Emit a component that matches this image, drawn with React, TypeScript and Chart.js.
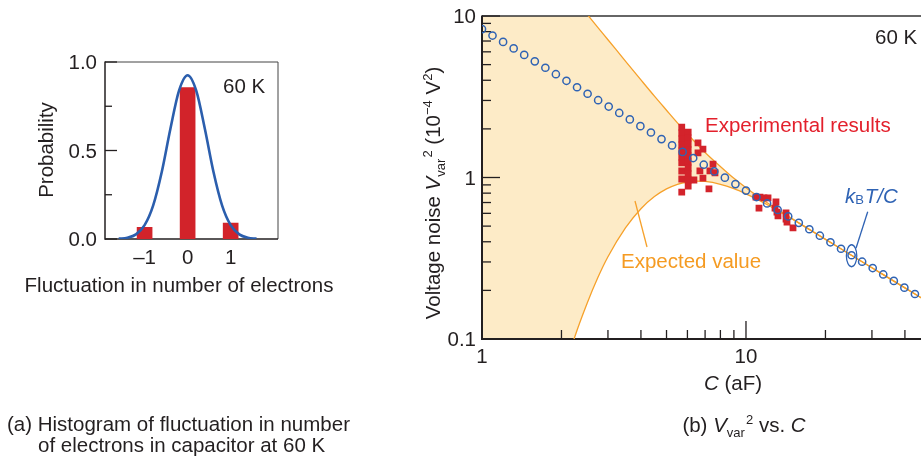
import { useEffect, useRef } from "react";
import { Chart, registerables } from "chart.js";
Chart.register(...registerables);

const FAMILY = '"Liberation Sans", Arial, Helvetica, sans-serif';
const INK = "#231f20";
const FS = 20.5;
const SUB = 13;

// ---------- Panel (a) data ----------
const fluctuationValues = [-1, 0, 1];
const probabilityValues = [0.066, 0.855, 0.09];
const gaussX = [-1.6, -1.4, -1.2, -1.0, -0.8, -0.6, -0.4, -0.2, 0, 0.2, 0.4, 0.6, 0.8, 1.0, 1.2, 1.4, 1.6];
const gaussY = [0.002, 0.007, 0.026, 0.078, 0.19, 0.38, 0.623, 0.838, 0.925, 0.838, 0.623, 0.38, 0.19, 0.078, 0.026, 0.007, 0.002];
const aYMajor = [0, 0.5, 1.0];
const aYMajorLabels = ["0.0", "0.5", "1.0"];
const aYMinor = [0.25, 0.75];
const aXTicks = [-1, 0, 1];
const aXLabels = ["\u20131", "0", "1"];

// ---------- Panel (b) data ----------
const kbtC = [1.0, 1.096, 1.202, 1.318, 1.445, 1.585, 1.738, 1.905, 2.089, 2.291, 2.512, 2.754, 3.02, 3.311, 3.631, 3.981, 4.365, 4.786, 5.248, 5.754, 6.31, 6.918, 7.586, 8.318, 9.12, 10.0, 10.96, 12.02, 13.18, 14.45, 15.85, 17.38, 19.05, 20.89, 22.91, 25.12, 27.54, 30.2, 33.11, 36.31, 39.81, 43.65, 47.86];
const kbtV = [8.3, 7.57, 6.91, 6.3, 5.74, 5.24, 4.78, 4.36, 3.97, 3.62, 3.3, 3.01, 2.75, 2.51, 2.29, 2.08, 1.9, 1.73, 1.58, 1.44, 1.32, 1.2, 1.09, 0.998, 0.91, 0.83, 0.757, 0.691, 0.63, 0.574, 0.524, 0.478, 0.436, 0.397, 0.362, 0.33, 0.301, 0.275, 0.251, 0.229, 0.208, 0.19, 0.173];

const expC = [
  5.71, 5.71, 5.71, 5.71, 5.71, 5.71, 5.71, 5.71, 5.71, 5.71,
  6.04, 6.04, 6.04, 6.04, 6.04, 6.04, 6.04, 6.04, 6.04, 6.04,
  6.58, 6.87, 6.58, 7.5, 7.3, 7.63, 6.69, 6.87, 6.35, 7.24,
  10.91, 11.3, 11.7, 12.12, 11.2, 12.99, 12.88, 13.1, 13.22, 14.18, 14.18, 14.3, 15.07,
];
const expV = [
  2.05, 1.886, 1.731, 1.589, 1.459, 1.339, 1.23, 1.097, 0.979, 0.813,
  1.91, 1.756, 1.612, 1.48, 1.359, 1.247, 1.145, 1.051, 0.965, 0.886,
  1.64, 1.5, 1.42, 1.21, 1.1, 1.07, 1.1, 0.99, 0.965, 0.85,
  0.757, 0.757, 0.747, 0.747, 0.647, 0.705, 0.647, 0.611, 0.578, 0.603, 0.553, 0.53, 0.487,
];

const curveC = [1, 1.5, 2, 2.25, 2.5, 2.75, 3, 3.5, 4, 4.5, 5, 5.5, 6, 6.5, 7, 8, 9, 10, 11, 12, 13.5, 15, 17.5, 20, 25, 30, 40, 50];
const upperV = [64.2, 28.5, 16.0, 12.7, 10.26, 8.48, 7.13, 5.24, 4.02, 3.19, 2.61, 2.18, 1.86, 1.62, 1.43, 1.17, 0.989, 0.865, 0.772, 0.7, 0.617, 0.554, 0.474, 0.4145, 0.3314, 0.2762, 0.2072, 0.1657];
const lowerV = [0.0001, 0.0075, 0.0556, 0.104, 0.166, 0.241, 0.323, 0.489, 0.641, 0.762, 0.85, 0.908, 0.938, 0.949, 0.945, 0.908, 0.853, 0.792, 0.734, 0.68, 0.61, 0.551, 0.473, 0.4139, 0.3314, 0.2762, 0.2072, 0.1657];

const bYMajor = [0.1, 1, 10];
const bYMajorLabels = ["0.1", "1", "10"];
const bYMinor = [0.2, 0.3, 0.4, 0.5, 0.6, 0.7, 0.8, 0.9, 2, 3, 4, 5, 6, 7, 8, 9];
const bXMajor = [1, 10];
const bXMajorLabels = ["1", "10"];
const bXMinor = [2, 3, 4, 5, 6, 7, 8, 9, 20, 30, 40];

// ---------- colours ----------
const RED_A = "#d2232a";
const BLUE_A = "#2b5ead";
const ORANGE = "#f6a12b";
const FILL = "#fdebc7";
const RED_B = "#d3232b";
const RED_TEXT = "#e3202c";
const BLUE_B = "#2f63b4";
const ORANGE_TEXT = "#f59b22";

type Run = { t: string; size?: number; italic?: boolean; dy?: number };

function fontOf(r: Run) {
  return `${r.italic ? "italic " : ""}${r.size ?? FS}px ${FAMILY}`;
}

function drawRich(ctx: CanvasRenderingContext2D, runs: Run[], x: number, y: number, align: "left" | "center" | "right") {
  let w = 0;
  for (const r of runs) {
    ctx.font = fontOf(r);
    w += ctx.measureText(r.t).width;
  }
  let cx = align === "center" ? x - w / 2 : align === "right" ? x - w : x;
  ctx.textAlign = "left";
  ctx.textBaseline = "alphabetic";
  for (const r of runs) {
    ctx.font = fontOf(r);
    ctx.fillText(r.t, cx, y + (r.dy ?? 0));
    cx += ctx.measureText(r.t).width;
  }
}

function line(ctx: CanvasRenderingContext2D, x1: number, y1: number, x2: number, y2: number, w: number, c: string) {
  ctx.beginPath();
  ctx.lineWidth = w;
  ctx.strokeStyle = c;
  ctx.moveTo(x1, y1);
  ctx.lineTo(x2, y2);
  ctx.stroke();
}

const panelAPlugin = {
  id: "panelA",
  beforeDatasetsDraw(chart: any) {
    const { ctx, chartArea: a, scales } = chart;
    const ys = scales.y;
    ctx.save();
    line(ctx, a.left, a.top, a.right, a.top, 1, "#444");
    line(ctx, a.right, a.top, a.right, a.bottom, 1, "#444");
    line(ctx, a.left, a.top - 0.5, a.left, a.bottom + 0.75, 1.5, INK);
    line(ctx, a.left, a.bottom, a.right, a.bottom, 1.5, INK);
    for (const v of aYMajor) {
      const y = ys.getPixelForValue(v);
      line(ctx, a.left, y, a.left + 12, y, 1.3, INK);
    }
    for (const v of aYMinor) {
      const y = ys.getPixelForValue(v);
      line(ctx, a.left, y, a.left + 7, y, 1.3, INK);
    }
    ctx.restore();
  },
  afterDraw(chart: any) {
    const { ctx, chartArea: a, scales } = chart;
    const xs = scales.x;
    const ys = scales.y;
    ctx.save();
    ctx.fillStyle = INK;
    aYMajor.forEach((v, i) => {
      drawRich(ctx, [{ t: aYMajorLabels[i] }], a.left - 8, ys.getPixelForValue(v) + 7.3, "right");
    });
    aXTicks.forEach((v, i) => {
      drawRich(ctx, [{ t: aXLabels[i] }], xs.getPixelForValue(v), 264, "center");
    });
    drawRich(ctx, [{ t: "Fluctuation in number of electrons" }], 179, 292, "center");
    drawRich(ctx, [{ t: "60 K" }], 223, 93, "left");
    ctx.save();
    ctx.translate(53, 150);
    ctx.rotate(-Math.PI / 2);
    drawRich(ctx, [{ t: "Probability" }], 0, 0, "center");
    ctx.restore();
    drawRich(ctx, [{ t: "(a) Histogram of fluctuation in number" }], 7, 431, "left");
    drawRich(ctx, [{ t: "of electrons in capacitor at 60 K" }], 38, 452, "left");
    ctx.restore();
  },
};

const panelBPlugin = {
  id: "panelB",
  beforeDatasetsDraw(chart: any) {
    const { ctx, chartArea: a, scales } = chart;
    const xs = scales.x;
    const ys = scales.y;
    ctx.save();
    line(ctx, a.left, a.top, a.right + 10, a.top, 1.3, "#333");
    line(ctx, a.left, a.top - 0.6, a.left, a.bottom + 1, 2, INK);
    line(ctx, a.left - 1, a.bottom, a.right + 10, a.bottom, 2, INK);
    for (const v of bYMajor) {
      const y = ys.getPixelForValue(v);
      line(ctx, a.left, y, a.left + 18, y, 1.3, INK);
    }
    for (const v of bYMinor) {
      const y = ys.getPixelForValue(v);
      line(ctx, a.left, y, a.left + 9, y, 1.3, INK);
    }
    for (const v of bXMajor) {
      const x = xs.getPixelForValue(v);
      line(ctx, x, a.bottom, x, a.bottom - 18, 1.3, INK);
    }
    for (const v of bXMinor) {
      const x = xs.getPixelForValue(v);
      line(ctx, x, a.bottom, x, a.bottom - 9, 1.3, INK);
    }
    ctx.restore();
  },
  afterDraw(chart: any) {
    const { ctx, chartArea: a, scales } = chart;
    const xs = scales.x;
    const ys = scales.y;
    ctx.save();
    ctx.fillStyle = INK;
    bYMajor.forEach((v, i) => {
      drawRich(ctx, [{ t: bYMajorLabels[i] }], a.left - 6, ys.getPixelForValue(v) + 7.3, "right");
    });
    bXMajor.forEach((v, i) => {
      drawRich(ctx, [{ t: bXMajorLabels[i] }], xs.getPixelForValue(v), 363, "center");
    });
    drawRich(ctx, [{ t: "C", italic: true }, { t: " (aF)" }], 333, 390, "center");
    drawRich(
      ctx,
      [{ t: "(b) " }, { t: "V", italic: true }, { t: "var", size: SUB, dy: 5 }, { t: " ", size: 4 }, { t: "2", size: SUB, dy: -8 }, { t: " vs. " }, { t: "C", italic: true }],
      344,
      432,
      "center"
    );
    drawRich(ctx, [{ t: "60 K" }], 475, 44, "left");
    ctx.save();
    ctx.translate(40, 193);
    ctx.rotate(-Math.PI / 2);
    drawRich(
      ctx,
      [
        { t: "Voltage noise " },
        { t: "V", italic: true },
        { t: "var", size: SUB, dy: 5 },
        { t: " ", size: 4 },
        { t: "2", size: SUB, dy: -8 },
        { t: " (10" },
        { t: "\u22124", size: SUB, dy: -8 },
        { t: " V" },
        { t: "2", size: SUB, dy: -8 },
        { t: ")" },
      ],
      0,
      0,
      "center"
    );
    ctx.restore();

    // annotations
    ctx.fillStyle = RED_TEXT;
    drawRich(ctx, [{ t: "Experimental results" }], 305, 132, "left");
    ctx.fillStyle = ORANGE_TEXT;
    drawRich(ctx, [{ t: "Expected value" }], 221, 268, "left");
    line(ctx, 235, 201, 247, 247, 1.3, ORANGE);
    ctx.fillStyle = BLUE_B;
    drawRich(ctx, [{ t: "k", italic: true }, { t: "B", size: SUB, dy: 1 }, { t: " ", size: 3 }, { t: "T/C", italic: true }], 445, 203, "left");
    line(ctx, 467.7, 211.7, 456, 248.3, 1.3, BLUE_B);
    const ex = xs.getPixelForValue(kbtC[35]);
    const ey = ys.getPixelForValue(kbtV[35]);
    ctx.beginPath();
    ctx.lineWidth = 1.3;
    ctx.strokeStyle = BLUE_B;
    ctx.ellipse(ex, ey + 0.5, 5.2, 11, 0, 0, Math.PI * 2);
    ctx.stroke();
    ctx.restore();
  },
};

export default function App() {
  const refA = useRef<HTMLCanvasElement | null>(null);
  const refB = useRef<HTMLCanvasElement | null>(null);

  useEffect(() => {
    if (!refA.current || !refB.current) return;
    const chartA = new Chart(refA.current, {
      type: "bar",
      data: {
        datasets: [
          {
            type: "line",
            data: gaussX.map((x, i) => ({ x, y: gaussY[i] })),
            borderColor: BLUE_A,
            borderWidth: 2.6,
            pointRadius: 0,
            cubicInterpolationMode: "monotone",
            fill: false,
            order: 0,
          } as any,
          {
            type: "bar",
            data: fluctuationValues.map((x, i) => ({ x, y: probabilityValues[i] })),
            backgroundColor: RED_A,
            barThickness: 15,
            order: 1,
          } as any,
        ],
      },
      options: {
        responsive: false,
        animation: false,
        devicePixelRatio: 1,
        events: [],
        layout: { padding: { left: 105, top: 62, right: 122, bottom: 222 } },
        scales: {
          x: { type: "linear", min: -1.92, max: 2.1, display: false, offset: false },
          y: { type: "linear", min: 0, max: 1, display: false },
        },
        plugins: { legend: { display: false }, tooltip: { enabled: false } },
      } as any,
      plugins: [panelAPlugin],
    });

    const chartB = new Chart(refB.current, {
      type: "scatter",
      data: {
        datasets: [
          {
            data: kbtC.map((x, i) => ({ x, y: kbtV[i] })),
            pointStyle: "circle",
            pointRadius: 3.6,
            borderWidth: 1.5,
            borderColor: BLUE_B,
            backgroundColor: "rgba(0,0,0,0)",
            order: 0,
          },
          {
            data: expC.map((x, i) => ({ x, y: expV[i] })),
            pointStyle: "rect",
            pointRadius: 4.8,
            borderWidth: 0,
            backgroundColor: RED_B,
            order: 1,
          },
          {
            type: "line",
            data: curveC.map((x, i) => ({ x, y: upperV[i] })),
            borderColor: ORANGE,
            borderWidth: 1.3,
            pointRadius: 0,
            cubicInterpolationMode: "monotone",
            fill: "+1",
            backgroundColor: FILL,
            order: 2,
          } as any,
          {
            type: "line",
            data: curveC.map((x, i) => ({ x, y: lowerV[i] })),
            borderColor: ORANGE,
            borderWidth: 1.3,
            pointRadius: 0,
            cubicInterpolationMode: "monotone",
            fill: false,
            order: 3,
          } as any,
        ],
      },
      options: {
        responsive: false,
        animation: false,
        devicePixelRatio: 1,
        events: [],
        layout: { padding: { left: 82, top: 16, right: 9.5, bottom: 122 } },
        scales: {
          x: { type: "logarithmic", min: 1, max: 50, display: false },
          y: { type: "logarithmic", min: 0.1, max: 10, display: false },
        },
        plugins: {
          legend: { display: false },
          tooltip: { enabled: false },
          filler: { drawTime: "beforeDatasetsDraw" },
        },
      } as any,
      plugins: [panelBPlugin],
    });

    return () => {
      chartA.destroy();
      chartB.destroy();
    };
  }, []);

  return (
    <div
      style={{
        position: "fixed",
        left: 0,
        top: 0,
        width: 921,
        height: 461,
        overflow: "hidden",
        background: "#fff",
      }}
    >
      <canvas ref={refA} width={400} height={461} style={{ position: "absolute", left: 0, top: 0 }} />
      <canvas ref={refB} width={540} height={461} style={{ position: "absolute", left: 400, top: 0 }} />
    </div>
  );
}
